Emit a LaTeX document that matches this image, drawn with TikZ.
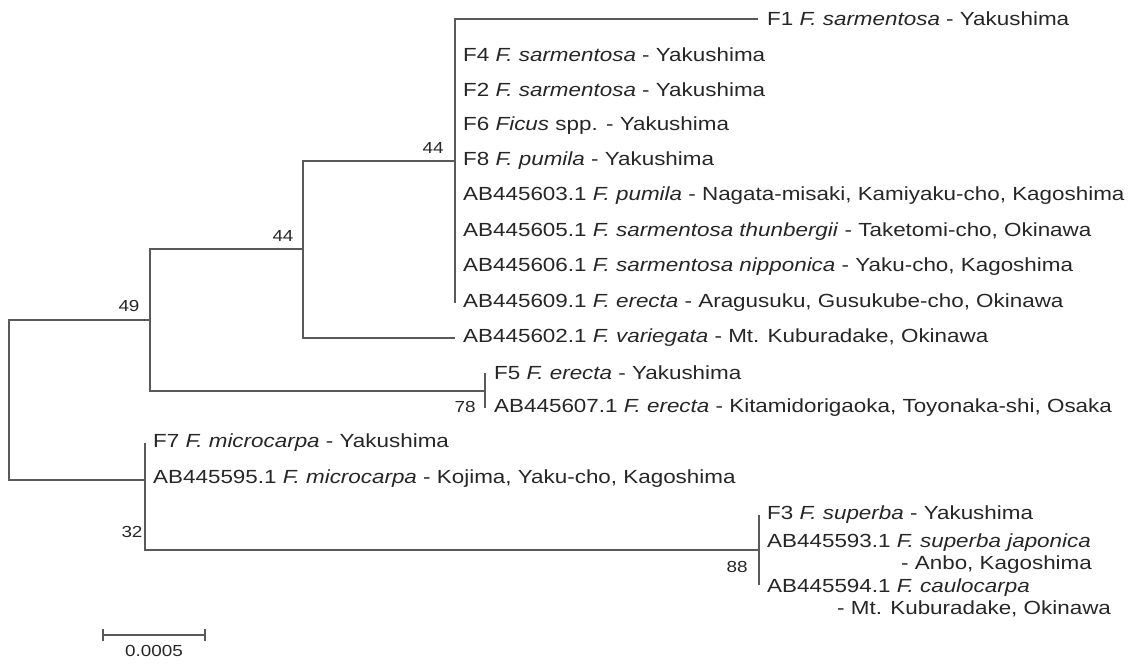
\documentclass[tikz,border=0pt]{standalone}
\usepackage{fontspec}
\setmainfont{Liberation Sans}[FakeStretch=1.18]
\usetikzlibrary{positioning, calc}
\definecolor{treeGrey}{HTML}{5A5A5A}
\definecolor{textGrey}{HTML}{262626}

\begin{document}
\begin{tikzpicture}[
        x=1pt, y=-1pt,
        branch/.style={draw=treeGrey, line width=1.4pt},
        leaf/.style={anchor=west, inner sep=0pt, text=textGrey,
            font=\fontsize{19}{22}\selectfont},
        boot/.style={inner sep=0pt, text=textGrey,
            font=\fontsize{16}{18}\selectfont},
        ]
        \useasboundingbox (0,0) rectangle (1133,664);

        % Internal nodes
        \coordinate (root) at (9,400);
        \coordinate (n49) at (150,320);
        \coordinate (n44a) at (303,249);
        \coordinate (n44b) at (455,161);
        \coordinate (n78) at (485,391);
        \coordinate (n32) at (145,480);
        \coordinate (n88) at (759,550);

        % Leaf tips
        \coordinate (t1) at (758,19);
        \coordinate (t4) at (455,55);
        \coordinate (t2) at (455,90);
        \coordinate (t6) at (455,126);
        \coordinate (t8) at (455,161);
        \coordinate (t603) at (455,196);
        \coordinate (t605) at (455,232);
        \coordinate (t606) at (455,267);
        \coordinate (t609) at (455,303);
        \coordinate (t602) at (455,338);
        \coordinate (t5) at (485,373);
        \coordinate (t607) at (485,408);
        \coordinate (t7) at (145,443);
        \coordinate (t595) at (145,479);
        \coordinate (t3) at (759,515);
        \coordinate (t593) at (759,543);
        \coordinate (t594) at (759,585);

        % Branches
        \draw[branch] (t1) -| (t609);
        \draw[branch] (n44b) -| (n44a);
        \draw[branch] (t602) -| (n44a);
        \draw[branch] (n44a) -| (n49);
        \draw[branch] (t5) -- (t607);
        \draw[branch] (n78) -| (n49);
        \draw[branch] (n49) -| (root);
        \draw[branch] (n32) -| (root);
        \draw[branch] (t7) -- (n32);
        \draw[branch, line width=2.6pt] (n32) -- ++(0,35);
        \draw[branch] (n88) -| (n32);
        \draw[branch] (t3) -- (t594);

        % Leaves
        \node[leaf, right=9pt of t1] (f1) {F1 \textit{F. sarmentosa} - Yakushima};
        \node[leaf, right=8pt of t4] (f4) {F4 \textit{F. sarmentosa} - Yakushima};
        \node[leaf, right=8pt of t2] (f2) {F2 \textit{F. sarmentosa} - Yakushima};
        \node[leaf, right=8pt of t6] (f6) {F6 \textit{Ficus} spp. - Yakushima};
        \node[leaf, right=8pt of t8] (f8) {F8 \textit{F. pumila} - Yakushima};
        \node[leaf, right=8pt of t603] (ab603)
        {AB445603.1 \textit{F. pumila} - Nagata-misaki, Kamiyaku-cho, Kagoshima};
        \node[leaf, right=8pt of t605] (ab605)
        {AB445605.1 \textit{F. sarmentosa thunbergii} - Taketomi-cho, Okinawa};
        \node[leaf, right=8pt of t606] (ab606)
        {AB445606.1 \textit{F. sarmentosa nipponica} - Yaku-cho, Kagoshima};
        \node[leaf, right=8pt of t609] (ab609)
        {AB445609.1 \textit{F. erecta} - Aragusuku, Gusukube-cho, Okinawa};
        \node[leaf, right=8pt of t602] (ab602)
        {AB445602.1 \textit{F. variegata} - Mt. Kuburadake, Okinawa};
        \node[leaf, right=9pt of t5] (f5) {F5 \textit{F. erecta} - Yakushima};
        \node[leaf, right=9pt of t607] (ab607)
        {AB445607.1 \textit{F. erecta} - Kitamidorigaoka, Toyonaka-shi, Osaka};
        \node[leaf, right=8pt of t7] (f7) {F7 \textit{F. microcarpa} - Yakushima};
        \node[leaf, right=8pt of t595] (ab595)
        {AB445595.1 \textit{F. microcarpa} - Kojima, Yaku-cho, Kagoshima};
        \node[leaf, right=8pt of t3] (f3) {F3 \textit{F. superba} - Yakushima};
        \node[leaf, right=8pt of t593, yshift=-11pt, align=left] (ab593)
        {AB445593.1 \textit{F. superba japonica}\\\hspace*{134pt}- Anbo, Kagoshima};
        \node[leaf, right=8pt of t594, yshift=-13pt, align=left] (ab594)
        {AB445594.1 \textit{F. caulocarpa}\\\hspace*{70pt}- Mt. Kuburadake, Okinawa};

        % Bootstrap values
        \node[boot] (b49) at ($(n49)+(-21,-14)$) {49};
        \node[boot] (b44a) at ($(n44a)+(-20,-13)$) {44};
        \node[boot] (b44b) at ($(n44b)+(-22,-13)$) {44};
        \node[boot] (b78) at ($(n78)+(-20,16)$) {78};
        \node[boot] (b32) at ($(n32)+(-13,52)$) {32};
        \node[boot] (b88) at ($(n88)+(-22,17)$) {88};

        % Scale bar
        \coordinate (sbl) at (103,635);
        \coordinate (sbr) at (205,635);
        \draw[branch] (sbl) -- (sbr);
        \draw[branch] ($(sbl)+(0,-6)$) -- ($(sbl)+(0,6)$);
        \draw[branch] ($(sbr)+(0,-6)$) -- ($(sbr)+(0,6)$);
        \node[boot] (sbtext) at (154,651) {0.0005};
    \end{tikzpicture}
\end{document}
